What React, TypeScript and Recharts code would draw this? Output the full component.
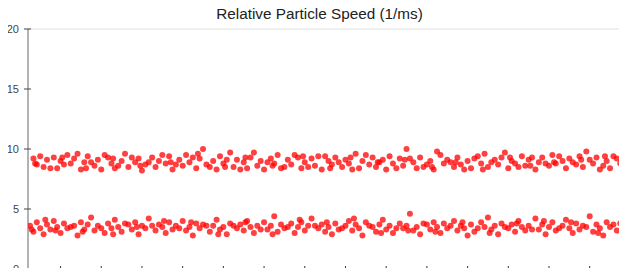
import React from 'react';
import { ScatterChart, Scatter, XAxis, YAxis, ReferenceLine } from 'recharts';

const title = 'Relative Particle Speed (1/ms)';
const yTicks = [0, 5, 10, 15, 20];
const xTicks = [12, 24, 36, 48, 60, 72, 84, 96, 108, 120, 132, 144, 156, 168];

const upperBand: [number, number][] = [
  [4,9.2],[5,8.7],[6,9.4],[7,8.5],[8,9.1],[10,9.3],[11,8.4],[12,9.0],[14,9.5],[15,8.8],[16,9.2],[18,8.3],[19,8.9],[20,9.4],[22,8.6],[23,9.1],[24,8.3],[26,9.3],[27,8.8],[28,8.4],[30,9.0],[31,9.6],[32,8.5],[34,8.9],[35,9.2],[36,8.2],[37,8.7],[39,9.3],[40,8.5],[41,9.0],[43,8.8],[44,9.4],[45,8.3],[47,9.1],[48,8.6],[49,9.5],[50,8.9],[52,8.4],[53,9.2],[54,10.0],[55,8.7],[57,9.0],[58,8.3],[59,9.4],[60,8.8],[62,9.7],[63,8.5],[64,9.1],[66,8.9],[67,8.4],[68,9.3],[70,8.6],[71,9.0],[72,8.3],[74,9.2],[75,8.8],[76,9.5],[78,8.5],[79,9.1],[80,8.7],[82,9.3],[83,8.4],[84,8.9],[86,9.2],[87,8.6],[88,9.4],[89,8.3],[91,9.0],[92,8.7],[93,9.3],[95,8.5],[96,9.1],[97,8.8],[99,9.6],[100,8.4],[101,9.0],[103,8.7],[104,9.3],[105,8.5],[107,9.1],[108,8.3],[109,9.4],[110,8.8],[112,9.2],[113,8.6],[114,10.0],[116,8.9],[117,8.4],[118,9.3],[120,8.7],[121,9.0],[122,8.3],[124,9.5],[125,8.8],[126,9.1],[128,8.5],[129,9.3],[130,8.7],[132,9.0],[133,8.4],[134,9.2],[136,8.8],[137,9.6],[138,8.5],[140,9.1],[141,8.7],[142,9.3],[144,8.4],[145,9.0],[146,8.8],[148,9.4],[149,8.6],[150,9.1],[152,8.3],[153,8.9],[154,9.3],[156,8.6],[157,9.5],[158,8.8],[160,9.0],[161,8.4],[162,9.2],[164,8.7],[165,9.4],[166,8.5],[168,9.1],[169,8.8],[170,9.3],[172,8.6],[173,9.0],[174,8.4],[176,9.2],[177,8.8],[178,9.5]
];

const upperExtra: [number, number][] = [
  [9,8.4],[13,8.7],[17,9.6],[21,8.9],[25,9.5],[29,8.6],[33,9.3],[38,8.9],[42,9.5],[46,8.7],[51,9.3],[56,8.5],[61,9.1],[65,8.3],[69,9.7],[73,8.9],[77,8.4],[81,9.5],[85,8.5],[90,9.4],[94,8.9],[98,8.3],[102,9.5],[106,8.9],[111,8.4],[115,9.2],[119,8.5],[123,9.8],[127,8.9],[131,8.3],[135,9.4],[139,8.9],[143,9.7],[147,8.5],[151,9.3],[155,8.8],[159,9.4],[163,8.9],[167,9.8],[171,8.3],[175,9.4],
  [4.5,8.8],[12.5,9.3],[19.5,8.4],[27.5,9.2],[35.5,8.6],[44.5,8.9],[52.5,9.6],[60.5,8.5],[66.5,9.3],[74.5,8.6],[83.5,9.4],[91.5,8.4],[97.5,9.3],[105.5,8.9],[113.5,9.1],[121.5,8.5],[128.5,8.9],[136.5,8.3],[144.5,9.3],[150.5,8.6],[157.5,8.9],[165.5,9.1],[172.5,9.4],[178.5,8.4]
];

const lowerBand: [number, number][] = [
  [3,3.6],[4,3.1],[5,3.9],[6,3.4],[7,2.9],[8,3.7],[9,3.3],[10,4.0],[11,3.5],[12,3.0],[13,3.8],[14,3.4],[16,3.6],[17,2.8],[18,3.9],[19,3.3],[20,3.7],[21,4.3],[22,3.2],[23,3.6],[25,3.0],[26,3.8],[27,3.4],[28,4.1],[29,3.5],[30,3.1],[32,3.7],[33,3.3],[34,3.9],[35,2.9],[36,3.6],[37,3.4],[38,4.2],[40,3.2],[41,3.7],[42,3.5],[43,3.0],[44,3.9],[45,3.3],[46,3.6],[48,4.0],[49,3.2],[50,3.5],[51,2.8],[52,3.8],[53,3.4],[54,3.7],[56,3.1],[57,3.6],[58,4.1],[59,3.3],[60,3.5],[61,2.9],[62,3.8],[64,3.4],[65,3.7],[66,3.2],[67,4.0],[68,3.5],[69,3.0],[70,3.6],[72,3.9],[73,3.3],[74,3.6],[75,4.4],[76,3.1],[77,3.7],[78,3.4],[80,3.8],[81,3.0],[82,3.5],[83,3.9],[84,3.2],[85,3.6],[86,4.2],[88,3.4],[89,3.7],[90,3.1],[91,3.5],[92,2.9],[93,3.8],[94,3.3],[96,3.6],[97,4.0],[98,3.2],[99,3.7],[100,3.4],[101,2.8],[102,3.9],[104,3.5],[105,3.1],[106,3.7],[107,4.1],[108,3.3],[109,3.6],[110,3.0],[112,3.8],[113,3.4],[114,3.6],[115,4.6],[116,3.2],[117,3.5],[118,2.9],[120,3.7],[121,3.3],[122,3.9],[123,3.5],[124,3.0],[125,3.8],[126,3.4],[128,4.0],[129,3.2],[130,3.6],[131,3.4],[132,2.8],[133,3.7],[134,3.1],[136,3.9],[137,3.5],[138,4.3],[139,3.3],[140,3.6],[141,2.9],[142,3.8],[144,3.4],[145,3.7],[146,3.1],[147,4.0],[148,3.5],[149,3.2],[150,3.6],[152,4.2],[153,3.3],[154,3.7],[155,2.9],[156,3.5],[157,3.9],[158,3.2],[160,3.6],[161,4.1],[162,3.4],[163,3.0],[164,3.8],[165,3.3],[166,3.6],[168,4.4],[169,3.1],[170,3.7],[171,3.4],[172,2.8],[173,3.9],[174,3.5],[176,3.2],[177,3.8],[178,4.2],[179,3.4]
];

const lowerExtra: [number, number][] = [
  [3.5,3.3],[7.5,4.1],[10.5,3.2],[15,3.5],[18.5,3.1],[24,3.4],[27.5,2.9],[31,3.8],[34.5,3.5],[39,3.6],[42.5,4.0],[47,3.4],[50.5,3.9],[55,3.6],[58.5,2.9],[63,3.6],[66.5,3.9],[71,3.3],[74.5,2.9],[79,3.5],[82.5,4.1],[87,3.6],[90.5,3.9],[95,3.4],[98.5,4.2],[103,3.6],[106.5,3.0],[111,3.4],[114.5,3.2],[119,3.8],[122.5,3.1],[127,3.6],[130.5,3.9],[135,3.4],[138.5,3.0],[143,3.5],[146.5,3.8],[151,3.3],[154.5,4.0],[159,3.4],[162.5,3.9],[167,3.5],[170.5,3.0],[175,3.7],[178.5,3.3]
];

const toPoints = (arr: [number, number][]) => arr.map(([x, y]) => ({ x, y }));
const upperData = toPoints([...upperBand, ...upperExtra]);
const lowerData = toPoints([...lowerBand, ...lowerExtra]);

const FONT = 'Liberation Sans, Arial, sans-serif';

const Dot = (props: any) => {
  if (props.cx == null || props.cy == null) return null;
  return <circle cx={props.cx} cy={props.cy} r={3} fill="#ff0000" fillOpacity={0.75} />;
};

const YTick = (props: any) => {
  const { x, y, payload } = props;
  return (
    <g>
      <line x1={x - 4} x2={x + 3} y1={y} y2={y} stroke="#444" strokeWidth={1} />
      <text x={x - 9} y={y} textAnchor="end" dominantBaseline="central" fontSize={11} fill="#444" fontFamily={FONT}>
        {payload.value}
      </text>
    </g>
  );
};

const XTick = (props: any) => {
  const { x, y } = props;
  return <line x1={x} x2={x} y1={y - 3} y2={y + 4} stroke="#333" strokeWidth={1} />;
};

export default function App() {
  return (
    <div style={{ position: 'relative', width: 627, height: 276, margin: -8, background: '#fff' }}>
      <ScatterChart width={627} height={276} margin={{ top: 29, right: 0, bottom: 0, left: 0 }}>
        <XAxis
          type="number"
          dataKey="x"
          domain={[2.4, 179]}
          ticks={xTicks}
          allowDataOverflow
          height={7}
          tickSize={0}
          tickMargin={0}
          tickLine={false}
          tick={<XTick />}
          axisLine={{ stroke: '#666' }}
          interval={0}
        />
        <YAxis
          type="number"
          dataKey="y"
          domain={[0, 20]}
          ticks={yTicks}
          width={28}
          tickSize={0}
          tickMargin={0}
          tickLine={false}
          tick={<YTick />}
          axisLine={{ stroke: '#666' }}
          interval={0}
        />
        <ReferenceLine y={20} stroke="#e0e0e0" />
        <Scatter data={upperData} shape={<Dot />} isAnimationActive={false} />
        <Scatter data={lowerData} shape={<Dot />} isAnimationActive={false} />
      </ScatterChart>
      <svg
        width={627}
        height={28}
        style={{ position: 'absolute', left: 0, top: 0, zIndex: 2, pointerEvents: 'none' }}
      >
        <text x={319.5} y={19} textAnchor="middle" fontSize={15.3} fill="#222" fontFamily={FONT}>
          {title}
        </text>
      </svg>
    </div>
  );
}
